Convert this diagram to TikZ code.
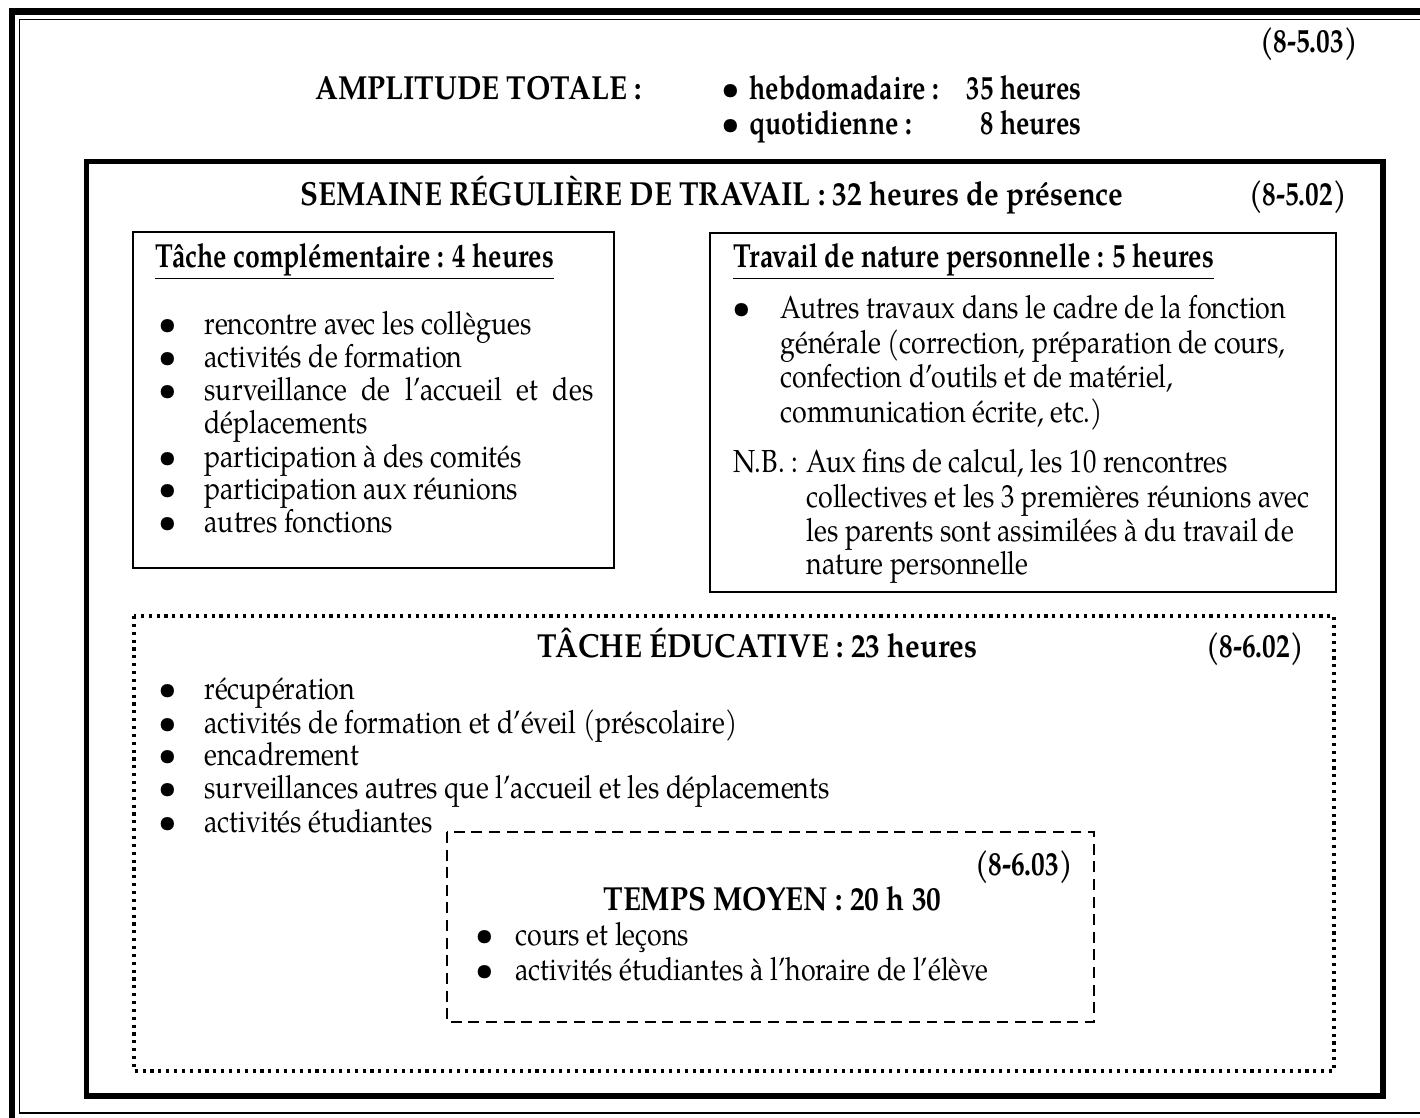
\documentclass[tikz,border=0pt]{standalone}
\usepackage{fontspec}
\setmainfont{TeX Gyre Pagella}
\newfontfamily\bodyfont[FakeStretch=0.84]{TeX Gyre Pagella}
\newfontfamily\capsfont[FakeStretch=0.88]{TeX Gyre Pagella}
\newfontfamily\lowfont[FakeStretch=0.8]{TeX Gyre Pagella}
\newfontfamily\reffont[FakeStretch=0.82]{TeX Gyre Pagella}
\newfontfamily\bulfont{TeX Gyre Pagella}
\begin{document}
\begin{tikzpicture}[x=0.42pt,y=-0.42pt,
  blt/.style={font=\bodyfont\fontsize{13.4}{15}\selectfont, inner sep=0pt, anchor=base west},
  bul/.style={font=\bulfont\fontsize{14}{14}\selectfont, inner sep=0pt, anchor=base west},
  capshead/.style={font=\capsfont\fontsize{14}{16}\selectfont\bfseries, inner sep=0pt},
  lowhead/.style={font=\lowfont\fontsize{14}{16}\selectfont\bfseries, inner sep=0pt},
  refhead/.style={font=\reffont\fontsize{14}{16}\selectfont\bfseries, inner sep=0pt, anchor=base east},
  thinbox/.style={draw, line width=0.7pt},
  dotbox/.style={draw, line width=1.3pt, dash pattern=on 1.3pt off 2pt},
  dashbox/.style={draw, line width=0.8pt, dash pattern=on 4.6pt off 2.8pt}]
\useasboundingbox (0,0) rectangle (1420,1117);
\begin{scope}
\clip (0,0) rectangle (1420,1117);
% outer page frame
\draw[line width=2.9pt] (12,11.5) rectangle (1460,1160);
\draw[line width=0.6pt] (19.5,19.5) rectangle (1450,1113);
\end{scope}
% top header
\node[refhead] (ref1) at (1358,52) {(8-5.03)};
\node[capshead, anchor=base west] (amp) at (315,99) {AMPLITUDE TOTALE :};
\node[bul] (ab1) at (721,99) {•};
\node[lowhead, anchor=base west] (hebL) at (749,99) {hebdomadaire :};
\node[lowhead, anchor=base east] (hebR) at (1082,99) {35 heures};
\node[bul] (ab2) at (721,134) {•};
\node[lowhead, anchor=base west] (quoL) at (749,134) {quotidienne :};
\node[lowhead, anchor=base east] (quoR) at (1082,134) {8 heures};
% semaine box
\draw[line width=2.5pt] (86.5,161.5) rectangle (1383,1096);
\node[capshead, anchor=base west] (sem) at (300,205) {SEMAINE RÉGULIÈRE DE TRAVAIL : 32 heures de présence};
\node[refhead] (ref2) at (1347,205) {(8-5.02)};
% left box
\draw[thinbox] (133,232) rectangle (614,568);
\node[lowhead, anchor=base west] (tc) at (155,267) {\underline{Tâche complémentaire : 4 heures}};
\foreach \y/\t [count=\i] in {334/{rencontre avec les collègues},367/{activités de formation},400/{\makebox[163.4pt][s]{surveillance de l’accueil et des}},467/{participation à des comités},499/{participation aux réunions},532/{autres fonctions}}{
  \node[bul] (tcb\i) at (158,\y) {•};
  \node[blt] (tct\i) at (204,\y) {\t};
}
\node[blt] (tct7) at (204,433) {déplacements};
% right box
\draw[thinbox] (710,233) rectangle (1336,592);
\node[lowhead, anchor=base west] (tn) at (733,267) {\underline{Travail de nature personnelle : 5 heures}};
\node[bul] (tnb) at (732,318) {•};
\node[blt] (tn1) at (780,318) {Autres travaux dans le cadre de la fonction};
\node[blt] (tn2) at (780,353) {générale (correction, préparation de cours,};
\node[blt] (tn3) at (780,387) {confection d’outils et de matériel,};
\node[blt] (tn4) at (780,422) {communication écrite, etc.)};
\node[blt] (nb) at (733,472) {N.B. :};
\node[blt] (nb1) at (806,472) {Aux fins de calcul, les 10 rencontres};
\node[blt] (nb2) at (806,507) {collectives et les 3 premières réunions avec};
\node[blt] (nb3) at (806,541) {les parents sont assimilées à du travail de};
\node[blt] (nb4) at (806,574) {nature personnelle};
% tache educative
\draw[dotbox] (134,616) rectangle (1334,1071);
\node[capshead, anchor=base west] (te) at (537,657) {TÂCHE ÉDUCATIVE : 23 heures};
\node[refhead] (ref3) at (1304,657) {(8-6.02)};
\foreach \y/\t [count=\i] in {699/{récupération},733/{activités de formation et d’éveil (préscolaire)},765/{encadrement},798/{surveillances autres que l’accueil et les déplacements},832/{activités étudiantes}}{
  \node[bul] (teb\i) at (158,\y) {•};
  \node[blt] (tet\i) at (204,\y) {\t};
}
% temps moyen
\draw[dashbox] (447,832) rectangle (1094,1022);
\node[refhead] (ref4) at (1073,875) {(8-6.03)};
\node[capshead, anchor=base west] (tm) at (603,910) {TEMPS MOYEN : 20 h 30};
\node[bul] (tmb1) at (475,945) {•};
\node[blt] (tmt1) at (515,945) {cours et leçons};
\node[bul] (tmb2) at (475,980) {•};
\node[blt] (tmt2) at (515,980) {activités étudiantes à l’horaire de l’élève};
\end{tikzpicture}
\end{document}
